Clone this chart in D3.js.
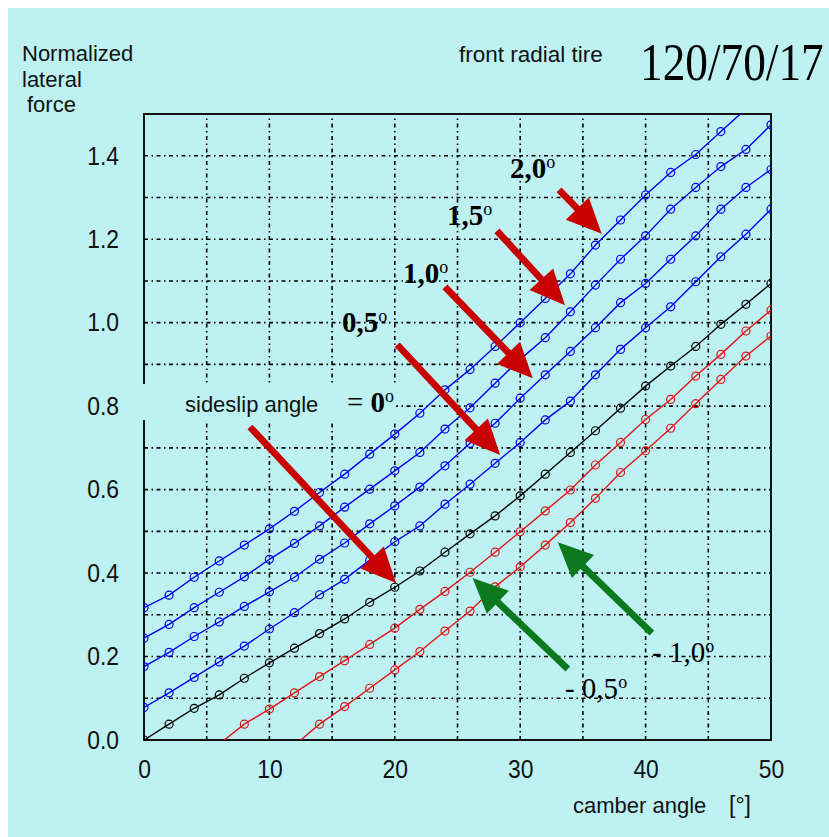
<!DOCTYPE html>
<html>
<head>
<meta charset="utf-8">
<script src="https://cdn.jsdelivr.net/npm/d3@7"></script>
<style>
  body { margin: 0; background: #fff; }
  svg { display: block; }
</style>
</head>
<body>
<svg id="chart" width="829" height="837"></svg>
<script>
// camber angle [deg] where the points were measured
const camber = [0, 2, 4, 6, 8, 10, 12, 14, 16, 18, 20, 22, 24, 26, 28, 30, 32, 34, 36, 38, 40, 42, 44, 46, 48, 50];

// normalized lateral force for each sideslip angle
const slip20 = [0.317, 0.347, 0.39, 0.429, 0.467, 0.506, 0.548, 0.593, 0.637, 0.685, 0.733, 0.783, 0.839, 0.888, 0.943, 1.0, 1.058, 1.117, 1.186, 1.246, 1.306, 1.36, 1.403, 1.458, 1.512, null];
const slip15 = [0.244, 0.277, 0.317, 0.354, 0.391, 0.433, 0.471, 0.513, 0.558, 0.601, 0.645, 0.689, 0.745, 0.796, 0.855, 0.912, 0.964, 1.026, 1.09, 1.152, 1.208, 1.272, 1.324, 1.374, 1.415, 1.474];
const slip10 = [0.176, 0.21, 0.248, 0.283, 0.32, 0.355, 0.39, 0.433, 0.472, 0.518, 0.561, 0.606, 0.657, 0.711, 0.759, 0.819, 0.875, 0.931, 0.988, 1.048, 1.094, 1.152, 1.208, 1.272, 1.324, 1.367];
const slip05 = [0.078, 0.113, 0.15, 0.187, 0.225, 0.266, 0.305, 0.348, 0.385, 0.431, 0.475, 0.513, 0.565, 0.613, 0.663, 0.713, 0.767, 0.812, 0.875, 0.936, 0.988, 1.038, 1.098, 1.158, 1.212, 1.272];
const slip0 = [0, 0.038, 0.076, 0.108, 0.148, 0.185, 0.22, 0.255, 0.29, 0.33, 0.366, 0.405, 0.45, 0.494, 0.537, 0.585, 0.637, 0.689, 0.741, 0.795, 0.848, 0.896, 0.943, 0.996, 1.044, 1.094];
const slipM05 = [null, null, null, null, 0.038, 0.074, 0.113, 0.152, 0.19, 0.229, 0.268, 0.313, 0.356, 0.402, 0.45, 0.499, 0.549, 0.599, 0.659, 0.713, 0.768, 0.816, 0.872, 0.924, 0.98, 1.03];
const slipM10 = [null, null, null, null, null, null, null, 0.038, 0.08, 0.124, 0.168, 0.212, 0.261, 0.309, 0.367, 0.415, 0.467, 0.521, 0.579, 0.641, 0.693, 0.747, 0.806, 0.864, 0.92, 0.968];
// camber angle where the negative-slip curves leave zero
const zeroCross = { m05: 6.4, m10: 12.5 };

const yTicks = [0, 0.2, 0.4, 0.6, 0.8, 1.0, 1.2, 1.4];
const xTicks = [0, 10, 20, 30, 40, 50];

// arrows: [tailCamber, tailForce, tipCamber, tipForce]
const redArrows = [
  [33.1, 1.318, 36.5, 1.213],
  [28.15, 1.22, 33.57, 1.042],
  [24.0, 1.086, 31.0, 0.867],
  [20.2, 0.947, 28.4, 0.683],
  [8.45, 0.75, 20.1, 0.376]
];
const greenArrows = [
  [40.5, 0.256, 33.0, 0.474],
  [33.8, 0.17, 26.2, 0.388]
];
const slipLabels = [
  { text: "2,0", cx: 29.19, cy: 1.347, bold: true },
  { text: "1,5", cx: 24.16, cy: 1.234, bold: true },
  { text: "1,0", cx: 20.65, cy: 1.095, bold: true },
  { text: "0,5", cx: 15.79, cy: 0.978, bold: true },
  { text: "- 1,0", cx: 40.51, cy: 0.187, bold: false },
  { text: "- 0,5", cx: 33.57, cy: 0.101, bold: false }
];

const blue = "#0000f0", red = "#e01414", black = "#000";
const series = [
  { values: slip20, color: blue },
  { values: slip15, color: blue },
  { values: slip10, color: blue },
  { values: slip05, color: blue },
  { values: slip0, color: black },
  { values: slipM05, color: red, start: zeroCross.m05 },
  { values: slipM10, color: red, start: zeroCross.m10 }
];

const W = 829, H = 837;
const plot = { left: 144, right: 771, top: 114, bottom: 740 };

const svg = d3.select("#chart");
svg.append("rect").attr("x", 8).attr("y", 8).attr("width", W - 8).attr("height", H - 8).attr("fill", "#bef2f2");

const x = d3.scaleLinear().domain([0, 50]).range([plot.left, plot.right]);
const y = d3.scaleLinear().domain([0, 1.5]).range([plot.bottom, plot.top]);

svg.append("clipPath").attr("id", "clip")
  .append("rect")
  .attr("x", plot.left).attr("y", plot.top)
  .attr("width", plot.right - plot.left).attr("height", plot.bottom - plot.top);

// grid
const grid = svg.append("g")
  .attr("stroke", "#000").attr("stroke-width", 1.6)
  .attr("stroke-dasharray", "4,3.5,1.5,3.5");
grid.selectAll(".gx").data(d3.range(5, 50, 5)).enter().append("line")
  .attr("x1", d => x(d)).attr("x2", d => x(d))
  .attr("y1", plot.bottom).attr("y2", plot.top);
grid.selectAll(".gy").data(d3.range(1, 15).map(d => d / 10)).enter().append("line")
  .attr("y1", d => y(d)).attr("y2", d => y(d))
  .attr("x1", plot.left).attr("x2", plot.right);

// frame
svg.append("rect")
  .attr("x", plot.left).attr("y", plot.top)
  .attr("width", plot.right - plot.left).attr("height", plot.bottom - plot.top)
  .attr("fill", "none").attr("stroke", "#111").attr("stroke-width", 2);

// axes
const axisFont = "Liberation Sans, Arial, sans-serif";
const yAxis = svg.append("g")
  .attr("transform", `translate(${plot.left},0)`)
  .call(d3.axisLeft(y).tickValues(yTicks).tickFormat(d3.format(".1f")).tickSize(0).tickPadding(28.4));
const xAxis = svg.append("g")
  .attr("transform", `translate(0,${plot.bottom})`)
  .call(d3.axisBottom(x).tickValues(xTicks).tickFormat(d3.format("d")).tickSize(0).tickPadding(20));
[yAxis, xAxis].forEach(a => {
  a.select(".domain").remove();
  a.selectAll("text")
    .attr("font-family", axisFont).attr("font-size", 26).attr("fill", "#111")
    .attr("transform", "scale(0.88,1)");
  a.attr("font-family", null).attr("font-size", null);
});

// series
const plotG = svg.append("g").attr("clip-path", "url(#clip)");
const line = d3.line().x(d => x(d[0])).y(d => y(d[1]));
series.forEach(s => {
  const pts = camber.map((c, i) => [c, s.values[i]]).filter(p => p[1] !== null);
  const linePts = s.start !== undefined ? [[s.start, 0]].concat(pts) : pts;
  plotG.append("path").datum(linePts)
    .attr("d", line).attr("fill", "none")
    .attr("stroke", s.color).attr("stroke-width", 1.4);
  plotG.selectAll(null).data(pts).enter().append("circle")
    .attr("cx", d => x(d[0])).attr("cy", d => y(d[1])).attr("r", 4)
    .attr("fill", "none").attr("stroke", s.color).attr("stroke-width", 1.2);
});

// arrows
function arrow(a, color) {
  const x0 = x(a[0]), y0 = y(a[1]), x1 = x(a[2]), y1 = y(a[3]);
  const dx = x1 - x0, dy = y1 - y0, len = Math.hypot(dx, dy);
  const ux = dx / len, uy = dy / len, px = -uy, py = ux;
  const sw = 3.4, hw = 16, hl = 35;
  const bx = x1 - ux * hl, by = y1 - uy * hl;
  const p = [
    [x0 + px * sw, y0 + py * sw], [bx + px * sw, by + py * sw], [bx + px * hw, by + py * hw],
    [x1, y1],
    [bx - px * hw, by - py * hw], [bx - px * sw, by - py * sw], [x0 - px * sw, y0 - py * sw]
  ];
  svg.append("polygon").attr("points", p.map(q => q.join(",")).join(" ")).attr("fill", color);
}

// sideslip label box (hides axis and grid behind it)
const sideG = svg.append("g");
const sideBox = sideG.append("rect").attr("fill", "#bef2f2");
sideG.append("text").attr("x", 185).attr("y", 412)
  .attr("font-family", axisFont).attr("font-size", 22).attr("fill", "#111")
  .text("sideslip angle");
const eq = sideG.append("text").attr("x", 347).attr("y", 412)
  .attr("font-family", "Liberation Serif, Times New Roman, serif").attr("font-size", 29).attr("fill", "#000");
eq.append("tspan").text("= ");
eq.append("tspan").attr("font-weight", "bold").text("0");
eq.append("tspan").attr("font-size", 18).attr("dy", -10).text("o");
const bb = sideG.node().getBBox();
sideBox.attr("x", plot.left - 6).attr("y", bb.y - 2)
  .attr("width", bb.x + bb.width + 2 - (plot.left - 6)).attr("height", bb.height + 4);

redArrows.forEach(a => arrow(a, "#c80000"));
greenArrows.forEach(a => arrow(a, "#0b7a1e"));

slipLabels.forEach(d => {
  const t = svg.append("text").attr("x", x(d.cx)).attr("y", y(d.cy))
    .attr("font-family", "Liberation Serif, Times New Roman, serif").attr("font-size", 29)
    .attr("font-weight", d.bold ? "bold" : "normal").attr("fill", "#000");
  t.append("tspan").text(d.text);
  t.append("tspan").attr("font-size", 18).attr("font-weight", "normal").attr("dy", -10).text("o");
});

// titles
const ylab = svg.append("text").attr("font-family", axisFont).attr("font-size", 22).attr("fill", "#111");
ylab.append("tspan").attr("x", 22).attr("y", 61).text("Normalized");
ylab.append("tspan").attr("x", 22).attr("y", 87).text("lateral");
ylab.append("tspan").attr("x", 27).attr("y", 112).text("force");

svg.append("text").attr("x", 459).attr("y", 62)
  .attr("font-family", axisFont).attr("font-size", 22.5).attr("fill", "#111")
  .text("front radial tire");
svg.append("text").attr("transform", "translate(640,80) scale(0.855,1)")
  .attr("font-family", "Liberation Serif, Times New Roman, serif").attr("font-size", 53).attr("fill", "#000")
  .text("120/70/17");

svg.append("text").attr("x", 573).attr("y", 813)
  .attr("font-family", axisFont).attr("font-size", 22).attr("fill", "#111")
  .text("camber angle");
svg.append("text").attr("x", 729).attr("y", 813)
  .attr("font-family", axisFont).attr("font-size", 23).attr("fill", "#111")
  .text("[°]");
</script>
</body>
</html>
